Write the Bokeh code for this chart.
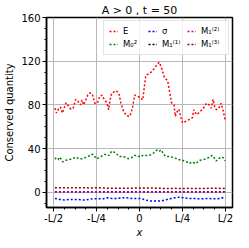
from bokeh.plotting import figure
from bokeh.models import Range1d, FixedTicker, Legend, LegendItem
from bokeh.embed import file_html
from bokeh.resources import INLINE

# ---- data (x in units of L) ----
E_x = [-0.492,-0.483,-0.474,-0.460,-0.449,-0.436,-0.427,-0.413,-0.399,-0.386,-0.371,-0.357,-0.343,-0.334,-0.325,
       -0.312,-0.301,-0.288,-0.275,-0.260,-0.245,-0.232,-0.219,-0.204,-0.190,-0.180,-0.171,-0.162,-0.148,-0.135,
       -0.120,-0.108,-0.093,-0.074,-0.056,-0.041,-0.028,-0.014,0.000,0.019,0.028,0.037,0.056,0.075,0.093,
       0.115,0.130,0.145,0.164,0.177,0.186,0.201,0.208,0.220,0.229,0.242,0.251,0.270,0.288,0.307,
       0.316,0.326,0.334,0.353,0.372,0.390,0.405,0.418,0.428,0.437,0.446,0.461,0.474,0.483,0.498]
E_y = [77,72.5,75.5,78,72.5,78,82,79,76,77,85,83,80,84.5,80,
       84.5,89,91,90,81.5,81.5,87.5,89,84.5,82,75.5,84.5,90.5,92,93,
       90.5,81.5,74,70,69.5,77,89,88,87,84.5,96.5,107,108.5,111,115,
       119,113,105,102,90.5,82,80,69.5,74,76,68,63.5,65,66.5,68,
       75.5,72.5,71,74,77,81.5,80,77,85,78.5,75.5,77,81.5,77,66.5]

M0_x = [-0.492,-0.483,-0.474,-0.464,-0.455,-0.446,-0.436,-0.427,-0.409,-0.390,-0.371,-0.353,-0.334,-0.316,-0.297,
        -0.282,-0.269,-0.251,-0.237,-0.223,-0.204,-0.190,-0.176,-0.163,-0.148,-0.130,-0.120,-0.102,-0.084,-0.065,
        -0.046,-0.028,-0.014,0.004,0.019,0.037,0.056,0.075,0.089,0.103,0.115,0.127,0.139,0.153,0.167,
        0.186,0.205,0.223,0.242,0.260,0.275,0.288,0.307,0.326,0.338,0.353,0.372,0.390,0.409,0.424,
        0.437,0.446,0.461,0.474,0.487,0.498]
M0_y = [31.6,29.8,29.8,32.2,29.8,27.7,28.6,29.3,29.8,30.7,32.2,30.7,30.7,31.6,32.8,
        34.6,34.6,30.7,31.6,32.8,34.6,34.6,33.7,37.6,36.7,34.6,32.8,32.8,32.2,30.7,
        31.6,33.7,33.7,32.2,33.7,33.7,33.7,35.2,36.7,38.8,37.6,38.8,35.2,32.8,32.8,
        32.2,31.6,29.8,29.8,28.6,27.7,26.2,27.7,26.2,27.7,29.3,29.8,30.7,32.2,33.7,
        30.7,28.6,30.7,32.2,31.6,28.6]

S_x = [-0.492,-0.464,-0.436,-0.409,-0.381,-0.353,-0.325,-0.297,-0.269,-0.241,-0.213,-0.185,-0.158,-0.130,-0.102,
       -0.074,-0.046,-0.018,0.009,0.037,0.065,0.093,0.121,0.149,0.177,0.205,0.232,0.260,0.288,0.316,
       0.344,0.372,0.400,0.428,0.455,0.483,0.498]
S_y = [-5.7,-6.6,-7.2,-6.6,-6.6,-6.6,-7.2,-6.6,-6.0,-6.0,-6.0,-5.1,-5.7,-5.7,-5.1,
       -5.1,-5.7,-5.7,-5.7,-7.2,-8.1,-8.1,-8.1,-7.2,-6.0,-5.1,-4.5,-5.1,-5.7,-5.7,
       -6.0,-6.0,-5.7,-6.0,-6.0,-5.1,-5.4]
M11_y = [0.4,0.4,0.5,0.4,0.4,0.3,0.4,0.4,0.5,0.4,0.4,0.3,0.4,0.4,0.4,
         0.3,0.4,0.4,0.4,0.4,0.3,0.4,0.4,0.4,0.3,0.4,0.4,0.4,0.4,0.3,
         0.4,0.4,0.4,0.3,0.4,0.4,0.4]
M12_y = [0.3,0.3,0.4,0.3,0.3,0.2,0.3,0.3,0.4,0.3,0.3,0.2,0.3,0.3,0.3,
         0.2,0.3,0.3,0.3,0.3,0.2,0.3,0.3,0.3,0.2,0.3,0.3,0.3,0.3,0.2,
         0.3,0.3,0.3,0.2,0.3,0.3,0.3]
M13_y = [4.2,4.2,4.2,3.9,4.2,4.2,4.2,3.9,3.9,4.2,3.9,3.6,3.6,3.6,3.6,
         3.6,3.6,3.9,3.9,3.9,3.9,3.6,3.6,3.3,3.3,3.6,3.3,3.3,3.6,3.3,
         3.3,3.3,3.6,3.6,3.6,3.3,3.6]

x_ticks = [-0.5, -0.25, 0, 0.25, 0.5]
x_tick_labels = ["-L/2", "-L/4", "0", "L/4", "L/2"]
y_ticks = [0, 40, 80, 120, 160]

FONT = "DejaVu Sans"

p = figure(width=241, height=240, output_backend="svg", toolbar_location=None,
           x_range=Range1d(-0.541, 0.541), y_range=Range1d(-14, 160),
           min_border_left=46, min_border_right=9, min_border_top=0, min_border_bottom=0)
p.title.text = "A > 0 , t = 50"
p.title.align = "center"
p.title.text_font = FONT
p.title.text_font_size = "11px"
p.title.text_font_style = "normal"
p.title.text_color = "black"
p.title.standoff = 2
p.title.offset = 0

p.outline_line_color = "black"
p.outline_line_width = 1.5
p.outline_line_alpha = 1

xt = FixedTicker(ticks=x_ticks, minor_ticks=[i / 16 - 0.5 for i in range(17)])
yt = FixedTicker(ticks=y_ticks, minor_ticks=list(range(-10, 161, 10)))
p.xaxis.ticker = xt
p.yaxis.ticker = yt
p.xgrid.ticker = xt
p.ygrid.ticker = yt
p.xaxis.major_label_overrides = {t: l for t, l in zip(x_ticks, x_tick_labels)}
for ax in (p.xaxis, p.yaxis):
    ax.major_label_text_font = FONT
    ax.major_label_text_font_size = "10px"
    ax.major_label_text_color = "black"
    ax.axis_label_text_font = FONT
    ax.axis_label_text_font_size = "10px"
    ax.axis_label_text_color = "black"
    ax.major_tick_in = 0
    ax.major_tick_out = 4
    ax.minor_tick_in = 0
    ax.minor_tick_out = 2
    ax.major_tick_line_color = "black"
    ax.minor_tick_line_color = "black"
    ax.axis_line_color = "black"
    ax.axis_line_width = 1.5
p.yaxis.major_label_standoff = 2
p.yaxis.axis_label_standoff = 3
p.xaxis.major_label_standoff = 1
p.xaxis.axis_label_standoff = 0
p.xaxis.axis_label = "x"
p.xaxis.axis_label_text_font_style = "italic"
p.yaxis.axis_label = "Conserved quantity"
p.yaxis.axis_label_text_font_style = "normal"
for g in (p.xgrid, p.ygrid):
    g.grid_line_color = "#b0b0b0"
    g.grid_line_width = 0.9

dash = "2 2"
rE = p.line(E_x, E_y, line_color="#ff0000", line_width=1.5, line_dash=dash)
rM0 = p.line(M0_x, M0_y, line_color="#008000", line_width=1.5, line_dash=dash)
rS = p.line(S_x, S_y, line_color="#0000ff", line_width=1.5, line_dash=dash)
rM11 = p.line(S_x, M11_y, line_color="black", line_width=1.5, line_dash=dash)
rM12 = p.line(S_x, M12_y, line_color="#bf00bf", line_width=1.5, line_dash=dash)
rM13 = p.line(S_x, M13_y, line_color="#8b0000", line_width=1.5, line_dash=dash)

# column-major fill: (E, M0²) / (σ, M1⁽¹⁾) / (M1⁽²⁾, M1⁽³⁾)
legend = Legend(items=[
    LegendItem(label="E", renderers=[rE]),
    LegendItem(label="M₀²", renderers=[rM0]),
    LegendItem(label="σ", renderers=[rS]),
    LegendItem(label="M₁⁽¹⁾", renderers=[rM11]),
    LegendItem(label="M₁⁽²⁾", renderers=[rM12]),
    LegendItem(label="M₁⁽³⁾", renderers=[rM13]),
], location="top_right", ncols=3)
legend.label_text_font = FONT
legend.label_text_font_size = "8.5px"
legend.label_text_color = "black"
legend.glyph_width = 9
legend.glyph_height = 10
legend.label_standoff = 5
legend.label_width = 22
legend.label_height = 10
legend.spacing = 3
legend.padding = 5
legend.margin = 3
legend.border_line_color = "#cccccc"
legend.background_fill_alpha = 0.8
p.add_layout(legend)

open("out.html", "w").write(file_html(p, INLINE))
